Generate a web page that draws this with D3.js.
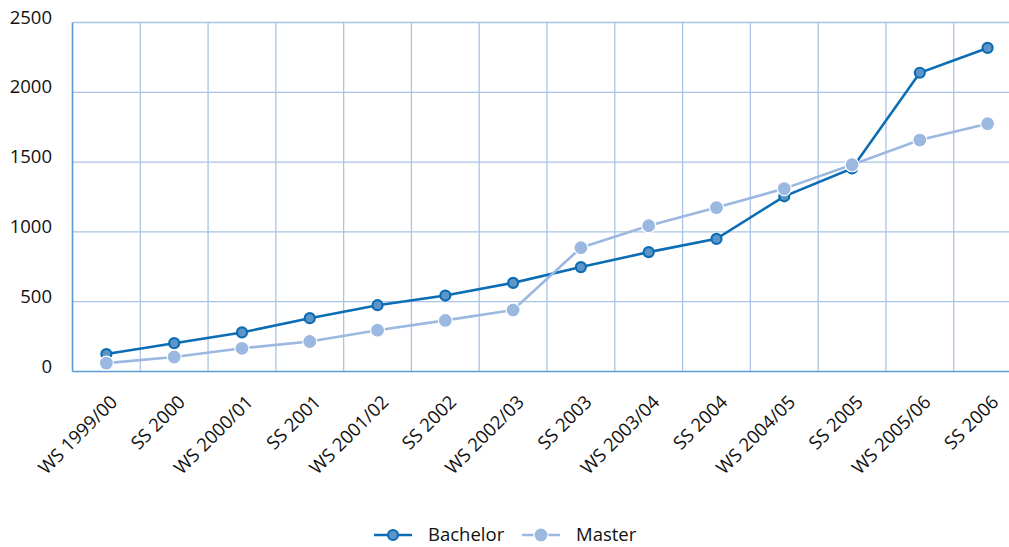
<!DOCTYPE html>
<html>
<head>
<meta charset="utf-8">
<script src="https://cdn.jsdelivr.net/npm/d3@7"></script>
<style>
  body { margin: 0; background: #fff; }
  text { font-family: "Open Sans", "Noto Sans", sans-serif; fill: #111; }
</style>
</head>
<body>
<div id="chart"></div>
<script>
// semesters along the x axis
const semesters = ["WS 1999/00", "SS 2000", "WS 2000/01", "SS 2001", "WS 2001/02", "SS 2002",
  "WS 2002/03", "SS 2003", "WS 2003/04", "SS 2004", "WS 2004/05", "SS 2005", "WS 2005/06", "SS 2006"];
const bachelor = [125, 203, 280, 382, 475, 544, 635, 748, 855, 950, 1255, 1455, 2140, 2318];
const master = [60, 104, 166, 215, 296, 366, 440, 887, 1044, 1174, 1310, 1481, 1658, 1775];
const yTicks = [0, 500, 1000, 1500, 2000, 2500];

const W = 1009, H = 547;
const margin = { top: 22.5, left: 72.5, bottom: 175.5 };
const plotRight = 1021.5;
const fontSize = "18.5px";

const svg = d3.select("#chart").append("svg")
  .attr("width", W)
  .attr("height", H);

const x = d3.scaleBand()
  .domain(semesters)
  .range([margin.left, plotRight]);

const y = d3.scaleLinear()
  .domain([0, 2500])
  .range([H - margin.bottom, margin.top]);

const gridColor = "#a9c3e6";
const axisColor = "#5d9bd6";

// horizontal grid
svg.append("g")
  .selectAll("line")
  .data(yTicks.filter(d => d > 0))
  .enter().append("line")
  .attr("x1", margin.left).attr("x2", plotRight)
  .attr("y1", d => y(d)).attr("y2", d => y(d))
  .style("stroke", gridColor)
  .style("stroke-width", 1.3);

// vertical grid at band boundaries
svg.append("g")
  .selectAll("line")
  .data(semesters.slice(1))
  .enter().append("line")
  .attr("x1", d => x(d)).attr("x2", d => x(d))
  .attr("y1", y(2500)).attr("y2", y(0))
  .style("stroke", gridColor)
  .style("stroke-width", 1.3);

// axis lines
svg.append("line")
  .attr("x1", margin.left).attr("x2", margin.left)
  .attr("y1", y(2500)).attr("y2", y(0))
  .style("stroke", axisColor).style("stroke-width", 1.6);
svg.append("line")
  .attr("x1", margin.left).attr("x2", plotRight)
  .attr("y1", y(0)).attr("y2", y(0))
  .style("stroke", axisColor).style("stroke-width", 1.6);

// y labels
svg.append("g")
  .selectAll("text")
  .data(yTicks)
  .enter().append("text")
  .attr("x", 52)
  .attr("y", d => y(d) + 1)
  .attr("text-anchor", "end")
  .style("font-size", fontSize)
  .text(d => d);

// x labels
svg.append("g")
  .selectAll("text")
  .data(semesters)
  .enter().append("text")
  .attr("transform", d => "translate(" + (x(d) + x.bandwidth() / 2 + 3) + "," + 394 + ") rotate(-45)")
  .attr("text-anchor", "end")
  .attr("dy", "0.7em")
  .style("font-size", fontSize)
  .text(d => d);

const cx = d => x(d) + x.bandwidth() / 2;
const line = d3.line()
  .x((d, i) => cx(semesters[i]))
  .y(d => y(d));

const series = [
  { name: "Bachelor", values: bachelor, color: "#0b6db4", fill: "#5e95c9", stroke: "#0b6db4", r: 5, sw: 2.2 },
  { name: "Master", values: master, color: "#9bb8e1", fill: "#9bb8e1", stroke: "#fff", r: 7, sw: 1.2 }
];

series.forEach(s => {
  svg.append("path")
    .datum(s.values)
    .attr("d", line)
    .style("fill", "none")
    .style("stroke", s.color)
    .style("stroke-width", 2.6);
  svg.append("g")
    .selectAll("circle")
    .data(s.values)
    .enter().append("circle")
    .attr("cx", (d, i) => cx(semesters[i]))
    .attr("cy", d => y(d))
    .attr("r", s.r)
    .style("fill", s.fill)
    .style("stroke", s.stroke)
    .style("stroke-width", s.sw);
});

// legend
const legendX = [374, 522];
const legend = svg.append("g");
series.forEach((s, i) => {
  const lx = legendX[i], ly = 535;
  legend.append("line")
    .attr("x1", lx).attr("x2", lx + 38)
    .attr("y1", ly).attr("y2", ly)
    .style("stroke", s.color).style("stroke-width", 2.6);
  legend.append("circle")
    .attr("cx", lx + 19).attr("cy", ly)
    .attr("r", s.r)
    .style("fill", s.fill)
    .style("stroke", s.stroke)
    .style("stroke-width", s.sw);
  legend.append("text")
    .attr("x", lx + 54).attr("y", 541)
    .style("font-size", fontSize)
    .text(s.name);
});
</script>
</body>
</html>
